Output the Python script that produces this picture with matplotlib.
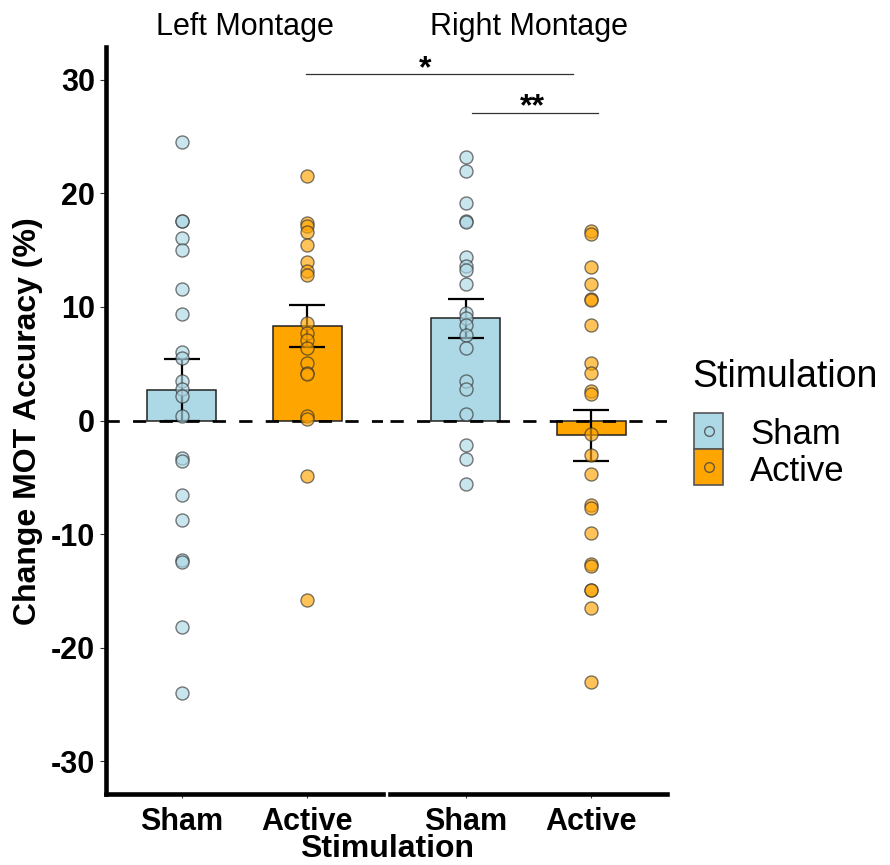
import matplotlib.pyplot as plt
from matplotlib.patches import Rectangle
from matplotlib.lines import Line2D
from matplotlib.transforms import blended_transform_factory

plt.rcParams['font.family'] = ['Liberation Sans', 'DejaVu Sans']

# data
montages = ['Left Montage', 'Right Montage']
stims = ['Sham', 'Active']
colors = ['#ADD8E6', '#FFA500']

left_sham = [24.5, 17.6, 17.6, 16.1, 15.0, 11.6, 9.4, 6.0, 5.5, 3.5, 2.8, 2.2,
             0.4, -3.3, -3.6, -6.6, -8.8, -12.3, -12.5, -18.2, -24.0]
left_active = [21.5, 17.4, 17.1, 16.6, 15.5, 14.0, 13.2, 12.8, 8.6, 7.7, 7.1,
               6.4, 5.1, 4.2, 4.1, 0.4, 0.1, -4.9, -15.8]
right_sham = [23.2, 22.0, 19.2, 17.6, 17.5, 14.4, 13.6, 13.3, 12.0, 9.5, 9.0,
              8.4, 7.5, 6.4, 3.5, 2.8, 0.6, -2.2, -3.4, -5.6]
right_active = [16.7, 16.4, 13.5, 12.0, 10.7, 10.6, 8.4, 5.1, 4.2, 2.6, 2.3,
                -1.2, -3.0, -4.7, -7.4, -7.7, -9.9, -12.6, -12.8, -14.9, -14.9,
                -16.5, -23.0]

left_means = [2.7, 8.3]
left_se = [2.75, 1.83]
right_means = [9.0, -1.3]
right_se = [1.73, 2.23]

# significance brackets (in right panel x units)
sig_x = [(-0.27, 1.85), (1.05, 2.05)]
sig_y = [30.5, 27.1]
sig_text = ['*', '**']
sig_text_x = [0.68, 1.53]

W, H = 890, 865
fig = plt.figure(figsize=(W / 100, H / 100), dpi=100)


def fx(x):
    return x / W


def fy(y):
    return 1 - y / H


def panel(left, right):
    return fig.add_axes([fx(left), fy(794), (right - left) / W, (794 - 47) / H])


ax1 = panel(106, 383)
ax2 = panel(390, 667)

groups = [(ax1, [left_sham, left_active], left_means, left_se),
          (ax2, [right_sham, right_active], right_means, right_se)]

xpos = [1, 2]
for ax, pts, means, se in groups:
    ax.bar(xpos, means, width=0.55, color=colors, edgecolor='#222222',
           linewidth=1.1, zorder=1)
    ax.axhline(0, color='black', lw=1.95, ls=(0, (4.9, 4.9)), zorder=2)
    ax.errorbar(xpos, means, yerr=se, fmt='none', ecolor='black',
                elinewidth=1.6, capsize=13.3, capthick=1.6, zorder=3)
    for x, vals, c in zip(xpos, pts, colors):
        ax.scatter([x] * len(vals), vals, s=88, color=c, alpha=0.65,
                   edgecolors='#333333', linewidths=1.0, zorder=4)
    ax.set_xlim(0.4, 2.6)
    ax.set_ylim(-32.9, 32.9)
    ax.set_xticks(xpos)
    ax.set_xticklabels(stims, fontsize=22, fontweight='bold')
    ax.tick_params(axis='x', length=3, width=0.8, pad=6, color='#333333')
    for s in ['top', 'right']:
        ax.spines[s].set_visible(False)
    ax.spines['bottom'].set_linewidth(3.3)
    ax.spines['left'].set_linewidth(3.3)
    ax.spines['bottom'].set_capstyle('projecting')
    ax.spines['left'].set_capstyle('projecting')

ax1.set_yticks(range(-30, 31, 10))
ax1.set_yticklabels([str(v) for v in range(-30, 31, 10)], fontsize=22,
                    fontweight='bold')
ax1.tick_params(axis='y', length=4.3, width=0.8, pad=3.6, color='#333333')
ax2.spines['left'].set_visible(False)
ax2.set_yticks([])

# facet strip labels
for ax, m in zip([ax1, ax2], montages):
    tr = blended_transform_factory(ax.transAxes, fig.transFigure)
    ax.text(0.5, fy(35), m, transform=tr, ha='center', va='baseline',
            fontsize=22)

# significance brackets
for (x0, x1), y, t, tx in zip(sig_x, sig_y, sig_text, sig_text_x):
    ax2.plot([x0, x1], [y, y], color='#333333', lw=0.9, clip_on=False, zorder=5)
    ax2.text(tx, y - 0.25, t, ha='center', va='baseline', fontsize=23,
             fontweight='bold', clip_on=False)

fig.text(fx(28), fy(421), 'Change MOT Accuracy (%)', rotation=90,
         ha='center', va='center', fontsize=23, fontweight='bold')
fig.text(fx(387), fy(857), 'Stimulation', ha='center', va='baseline',
         fontsize=23, fontweight='bold')

# legend
fig.text(fx(692), fy(387), 'Stimulation', ha='left', va='baseline', fontsize=27)
box_top = [413, 449]
label_base = [444, 481]
for lab, c, top, base in zip(stims, colors, box_top, label_base):
    fig.add_artist(Rectangle((fx(694), fy(top + 36)), 29 / W, 36 / H,
                             transform=fig.transFigure, facecolor=c,
                             edgecolor='#555555', linewidth=1.2))
    fig.add_artist(Line2D([fx(708.5)], [fy(top + 18)], marker='o', ms=7,
                          mfc=c, mec='#444444', mew=1.0, alpha=0.8,
                          transform=fig.transFigure))
    fig.text(fx(750), fy(base), lab, ha='left', va='baseline', fontsize=25)

fig.savefig('out.png', dpi=100)
